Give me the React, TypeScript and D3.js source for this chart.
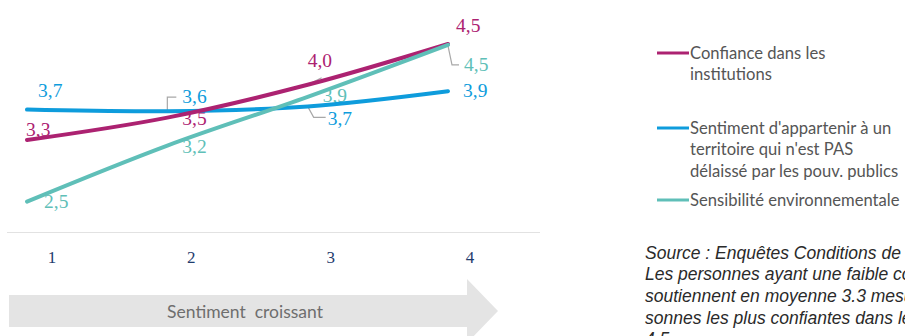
import React from "react";
import * as d3 from "d3";

// ---- data ----
const categories = [1, 2, 3, 4];
const tickLabels = ["1", "2", "3", "4"];
const seriesNames = [
  "Confiance dans les institutions",
  "Sentiment d'appartenir à un territoire qui n'est PAS délaissé par les pouv. publics",
  "Sensibilité environnementale",
];
const confianceValues = [3.3, 3.58, 3.99, 4.5];
const confianceLabels = ["3,3", "3,5", "4,0", "4,5"];
const appartenirValues = [3.68, 3.66, 3.72, 3.91];
const appartenirLabels = ["3,7", "3,6", "3,7", "3,9"];
const environnementValues = [2.53, 3.23, 3.84, 4.49];
const environnementLabels = ["2,5", "3,2", "3,9", "4,5"];
const axisTitle = "Sentiment  croissant";
const legendLines = [
  ["Confiance dans les", "institutions"],
  ["Sentiment d'appartenir à un", "territoire qui n'est PAS", "délaissé par les pouv. publics"],
  ["Sensibilité environnementale"],
];
const sourceLines = [
  "Source : Enquêtes Conditions de vie",
  "Les personnes ayant une faible confiance",
  "soutiennent en moyenne 3.3 mesures",
  "sonnes les plus confiantes dans les",
  "4,5",
];

// ---- styling / layout ----
const W = 905;
const H = 336;
const COLORS = ["#AC2271", "#0E9CDC", "#5FBFB8"];
const LEADER = "#A8A8A8";
const SERIF = "'Liberation Serif', 'DejaVu Serif', serif";
const SANS = "Lato, 'Open Sans', sans-serif";

// label offsets (dx from point x, dy baseline from point y), per series per point
const labelOffsets = [
  [[-1, -4], [15, 7.4], [0, -17.8], [8, -12]],
  [[11, -12.6], [15, -8.2], [20, 18.6], [15, 5.8]],
  [[17, 6.4], [15, 7.4], [15, 5.2], [16, 26.2]],
];
// leader polylines relative to point
const leaders: { s: number; i: number; pts: [number, number][] }[] = [
  { s: 1, i: 1, pts: [[0, 0], [0, -14], [9, -14]] },
  { s: 0, i: 2, pts: [[0, 0], [14, -7]] },
  { s: 1, i: 2, pts: [[0, 0], [6, 11], [18, 11]] },
  { s: 2, i: 3, pts: [[0, 1], [4, 20], [11, 20]] },
];

export default function App() {
  const x = d3.scaleLinear().domain([1, 4]).range([27, 448]);
  const xTick = d3.scaleLinear().domain([1, 4]).range([52, 470]);
  const y = d3.scaleLinear().domain([2.5, 4.5]).range([204, 44]);

  const series = [
    { values: confianceValues, labels: confianceLabels },
    { values: appartenirValues, labels: appartenirLabels },
    { values: environnementValues, labels: environnementLabels },
  ];

  const line = d3
    .line<number>()
    .x((_, i) => x(categories[i]))
    .y((v) => y(v))
    .curve(d3.curveCatmullRom.alpha(0.5));

  const drawOrder = [1, 0, 2];

  // arrow
  const arrowTop = 295;
  const arrowBot = 327;
  const arrowMid = (arrowTop + arrowBot) / 2;
  const arrowPath = d3.path();
  arrowPath.moveTo(9, arrowTop);
  arrowPath.lineTo(467, arrowTop);
  arrowPath.lineTo(467, arrowMid - 32);
  arrowPath.lineTo(498, arrowMid);
  arrowPath.lineTo(467, arrowMid + 32);
  arrowPath.lineTo(467, arrowBot);
  arrowPath.lineTo(9, arrowBot);
  arrowPath.closePath();

  const legendY = [53, 128, 200];

  return (
    <svg
      width={W}
      height={H}
      style={{ position: "absolute", left: 0, top: 0, background: "#fff" }}
    >
      {/* axis line */}
      <line x1={7} x2={540} y1={232.5} y2={232.5} stroke="#E2E2E2" strokeWidth={1} />
      {/* tick labels */}
      {categories.map((c, i) => (
        <text
          key={"t" + c}
          x={xTick(c)}
          y={263}
          textAnchor="middle"
          fontFamily={SERIF}
          fontSize={17}
          fill="#1F3C6E"
        >
          {tickLabels[i]}
        </text>
      ))}

      {/* arrow */}
      <path d={arrowPath.toString()} fill="#E4E4E4" />
      <text
        x={245}
        y={317.5}
        textAnchor="middle"
        fontFamily={SANS}
        fontSize={17.5}
        fill="#6E6E6E"
        style={{ whiteSpace: "pre" }}
      >
        {axisTitle}
      </text>

      {/* data labels */}
      {series.map((s, si) =>
        s.values.map((v, i) => (
          <text
            key={"l" + si + "-" + i}
            x={x(categories[i]) + labelOffsets[si][i][0]}
            y={y(v) + labelOffsets[si][i][1]}
            fontFamily={SERIF}
            fontSize={19.5}
            fill={COLORS[si]}
          >
            {s.labels[i]}
          </text>
        ))
      )}

      {/* leader lines */}
      {leaders.map((l, k) => {
        const px = x(categories[l.i]);
        const py = y(series[l.s].values[l.i]);
        const pts = l.pts.map(([dx, dy]) => `${px + dx},${py + dy}`).join(" ");
        return (
          <polyline key={"ld" + k} points={pts} fill="none" stroke={LEADER} strokeWidth={1.2} />
        );
      })}

      {/* lines */}
      {drawOrder.map((si) => (
        <path
          key={"s" + si}
          d={line(series[si].values) || ""}
          fill="none"
          stroke={COLORS[si]}
          strokeWidth={4}
          strokeLinecap="round"
        />
      ))}

      {/* legend */}
      {legendLines.map((lines, li) => (
        <g key={"lg" + li}>
          <title>{seriesNames[li]}</title>
          <line
            x1={657}
            x2={689}
            y1={legendY[li]}
            y2={legendY[li]}
            stroke={COLORS[li]}
            strokeWidth={3}
          />
          {lines.map((t, k) => (
            <text
              key={k}
              x={690}
              y={legendY[li] + 5.5 + k * 21.5}
              fontFamily={SANS}
              fontSize={16.6}
              fill="#555555"
            >
              {t}
            </text>
          ))}
        </g>
      ))}

      {/* source note */}
      {sourceLines.map((t, k) => (
        <text
          key={"src" + k}
          x={645}
          y={258.5 + k * 21.7}
          fontFamily="'Liberation Sans', Arial, sans-serif"
          fontStyle="italic"
          fontSize={17.5}
          fill="#2A2A2A"
        >
          {t}
        </text>
      ))}
    </svg>
  );
}
